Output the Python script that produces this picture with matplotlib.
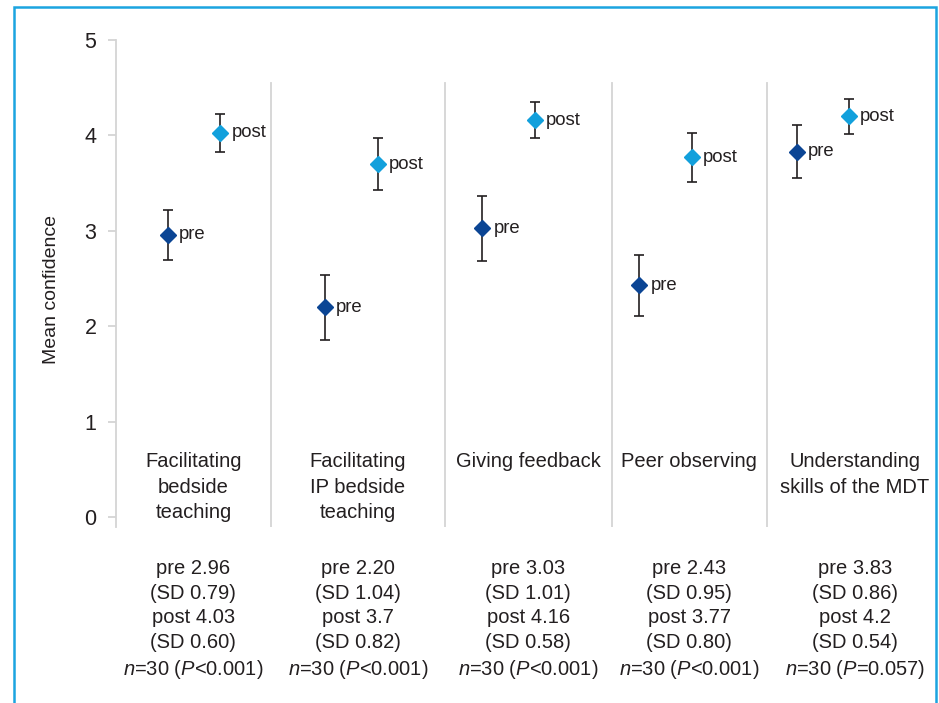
import numpy as np
import matplotlib
matplotlib.use("Agg")
import matplotlib.pyplot as plt
from matplotlib.patches import Rectangle

plt.rcParams['font.family'] = ['Liberation Sans', 'DejaVu Sans']
plt.rcParams['mathtext.fontset'] = 'custom'
plt.rcParams['mathtext.rm'] = 'Liberation Sans'
plt.rcParams['mathtext.it'] = 'Liberation Sans:italic'

# data
categories = ["Facilitating\nbedside\nteaching", "Facilitating\nIP bedside\nteaching",
              "Giving feedback", "Peer observing", "Understanding\nskills of the MDT"]
pre_mean = [2.96, 2.20, 3.03, 2.43, 3.83]
post_mean = [4.03, 3.7, 4.16, 3.77, 4.2]
pre_err = [0.26, 0.34, 0.34, 0.32, 0.28]
post_err = [0.20, 0.27, 0.19, 0.26, 0.18]
pre_txt = ["2.96", "2.20", "3.03", "2.43", "3.83"]
post_txt = ["4.03", "3.7", "4.16", "3.77", "4.2"]
pre_sd = ["0.79", "1.04", "1.01", "0.95", "0.86"]
post_sd = ["0.60", "0.82", "0.58", "0.80", "0.54"]
n_resp = [30, 30, 30, 30, 30]
p_txt = ["<0.001", "<0.001", "<0.001", "<0.001", "=0.057"]

TXT = '#231f20'
PRE_C = '#0b4594'
POST_C = '#12a0dc'
GRID = '#d4d4d4'

fig = plt.figure(figsize=(9.39, 7.03), dpi=100)
ax = fig.add_axes([0.1235, 0.2504, 0.8665, 0.6927])

x_pre = np.arange(len(categories))
x_post = x_pre + 0.334

ax.errorbar(x_pre, pre_mean, yerr=pre_err, fmt='D', color=PRE_C, ms=8, mec=PRE_C,
            ecolor=TXT, elinewidth=1.2, capsize=3.8, capthick=1.2, zorder=3)
ax.errorbar(x_post, post_mean, yerr=post_err, fmt='D', color=POST_C, ms=8, mec=POST_C,
            ecolor=TXT, elinewidth=1.2, capsize=3.8, capthick=1.2, zorder=3)

for i in range(len(categories)):
    ax.annotate("pre", (x_pre[i], pre_mean[i]), xytext=(8, 0), textcoords='offset points',
                va='center', ha='left', fontsize=13.3, color=TXT)
    ax.annotate("post", (x_post[i], post_mean[i]), xytext=(8, 0), textcoords='offset points',
                va='center', ha='left', fontsize=13.3, color=TXT)

# group separators
seps = [0.655, 1.762, 2.823, 3.809]
for s in seps:
    ax.plot([s, s], [-0.1, 4.55], color=GRID, lw=1.3, zorder=1)

ax.set_xlim(-0.33, 4.846)
ax.set_ylim(-0.1, 5)
ax.set_yticks([0, 1, 2, 3, 4, 5])
ax.set_xticks([])
for sp in ['top', 'right', 'bottom']:
    ax.spines[sp].set_visible(False)
ax.spines['left'].set_color(GRID)
ax.spines['left'].set_linewidth(1.3)
ax.tick_params(axis='y', colors=GRID, labelcolor=TXT, labelsize=15.5, length=6, width=1.3, pad=8)

bounds = [-0.33] + seps + [4.93]
for i, cat in enumerate(categories):
    cx = (bounds[i] + bounds[i + 1]) / 2
    ax.text(cx, 0.68, cat, ha='center', va='top', fontsize=14.5, color=TXT,
            linespacing=1.42)
    stats = ("pre %s\n(SD %s)\npost %s\n(SD %s)\n$n$=%d ($P$%s)"
             % (pre_txt[i], pre_sd[i], post_txt[i], post_sd[i], n_resp[i], p_txt[i]))
    ax.text(cx, -0.44, stats, ha='center', va='top', fontsize=14.5, color=TXT,
            linespacing=1.36, clip_on=False)

fig.text(52 / 939, 1 - 289 / 703, "Mean confidence", rotation=90, ha='center', va='center',
         fontsize=14, color=TXT)

# light blue frame
fig.patches.append(Rectangle((14 / 939, -0.02), (936 - 14) / 939, 1.02 - 7 / 703,
                             transform=fig.transFigure, fill=False, ec='#1ba4e0', lw=1.8))

fig.savefig("out.png", dpi=100)
